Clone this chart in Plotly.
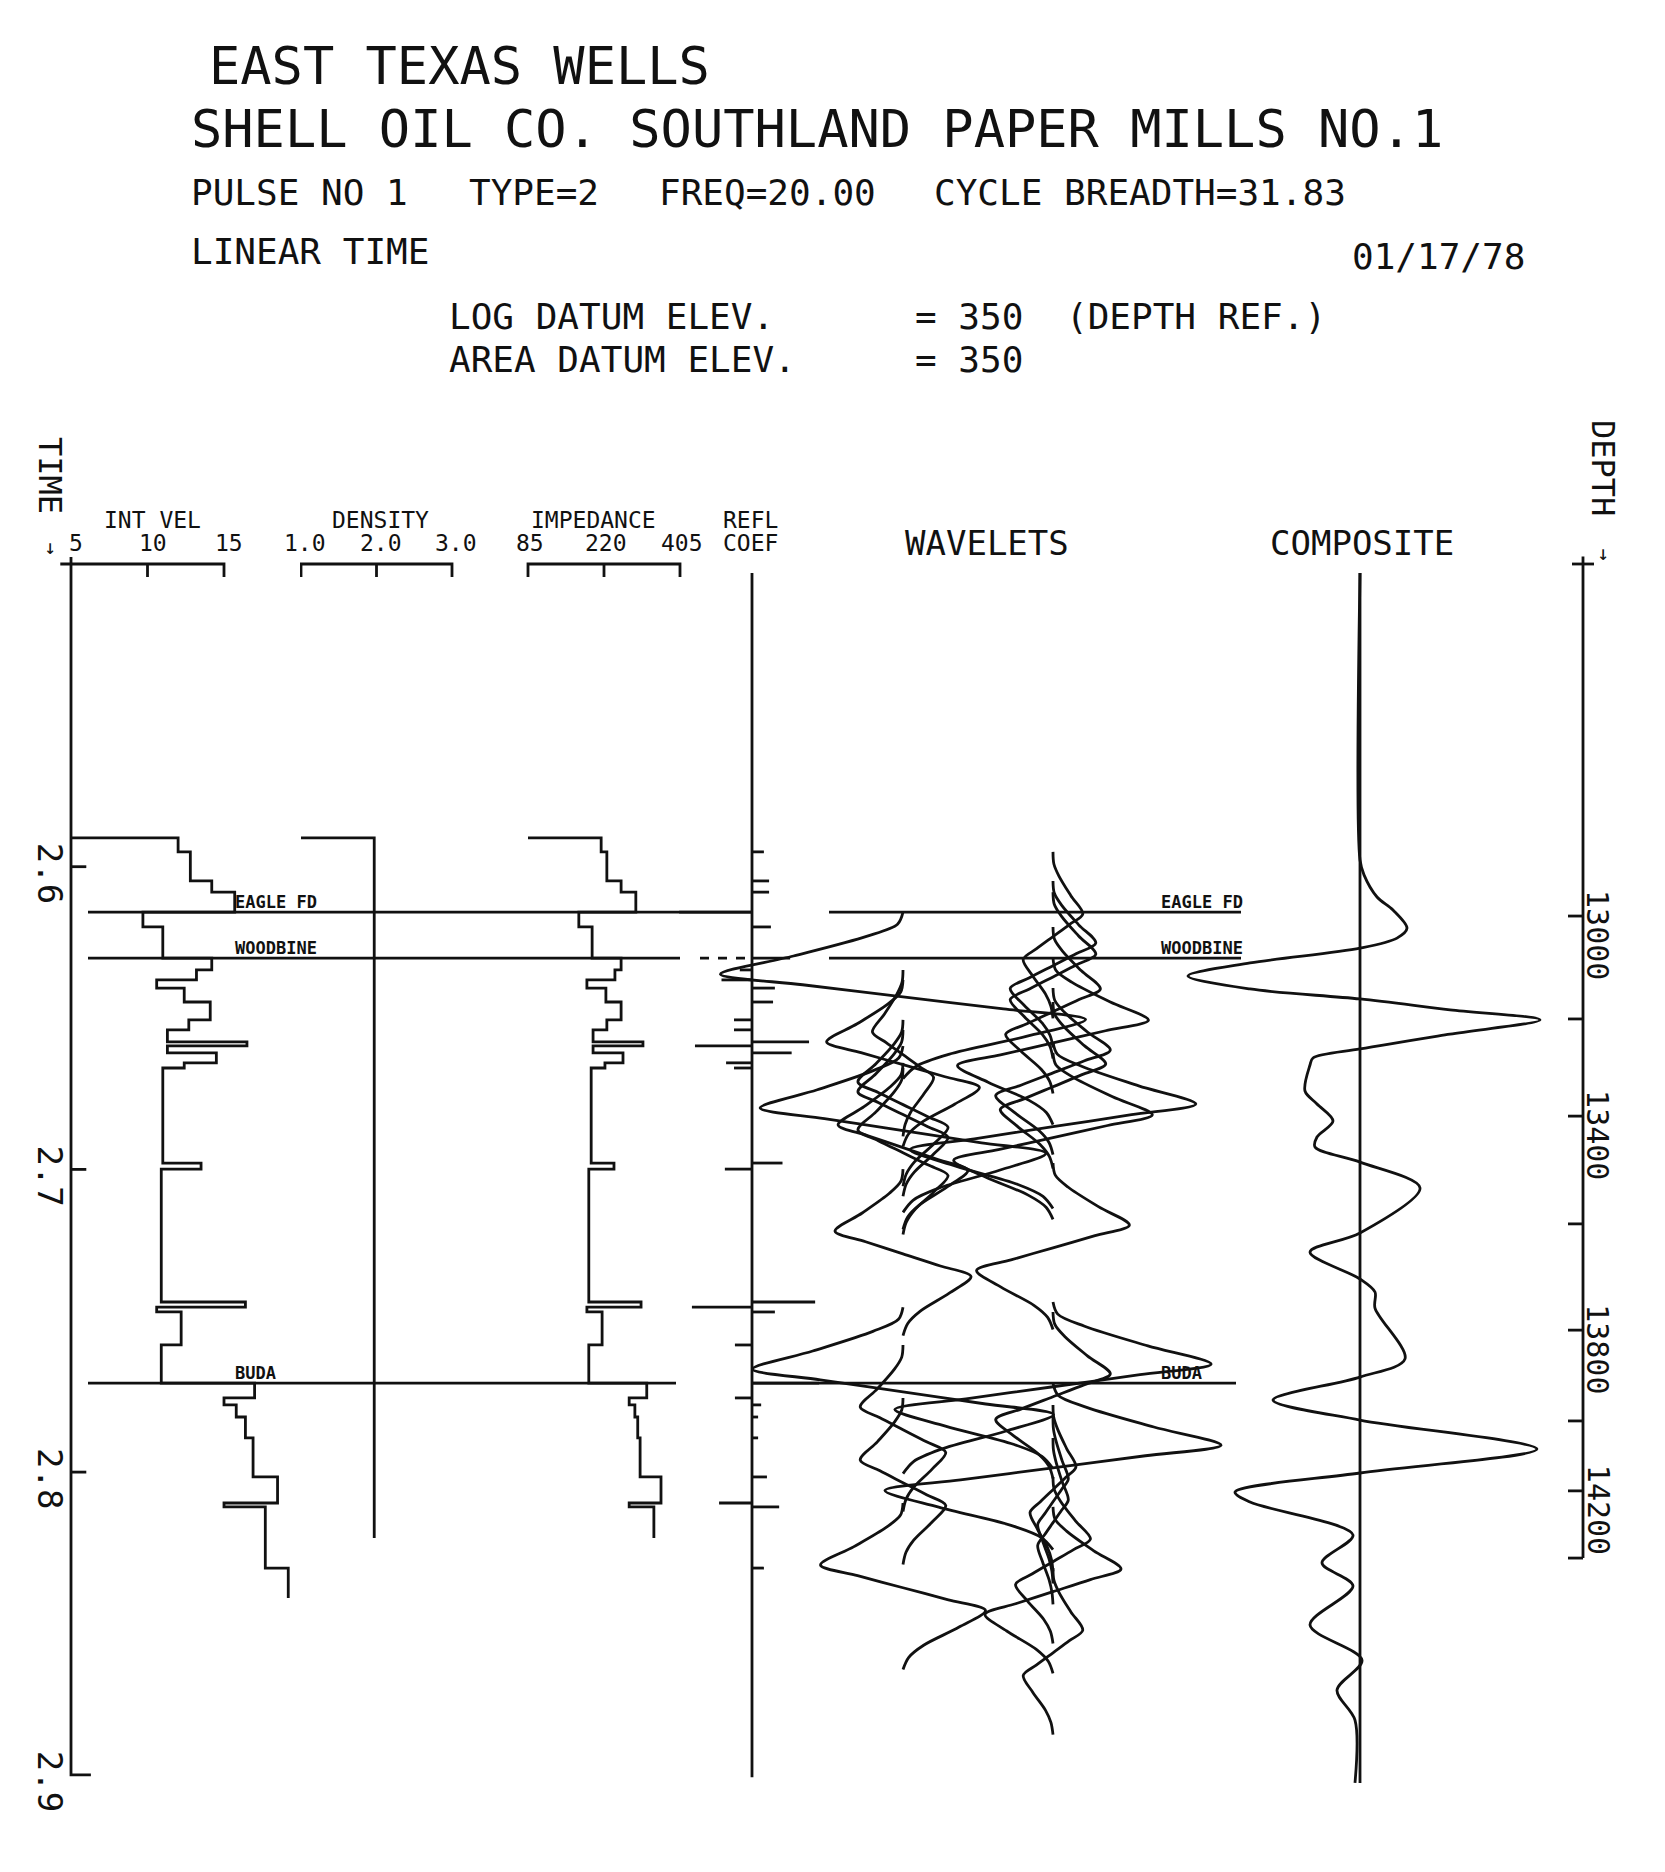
import plotly.graph_objects as go

W, H = 1665, 1872

# ---------------- data ----------------
time_ticks = [2.6, 2.7, 2.8, 2.9]
time_tick_labels = ["2.6", "2.7", "2.8", "2.9"]

vel_ticks = [5, 10, 15]
vel_tick_labels = ["5", "10", "15"]
dens_ticks = [1.0, 2.0, 3.0]
dens_tick_labels = ["1.0", "2.0", "3.0"]
imp_ticks = [85, 245, 405]
imp_tick_labels = ["85", "220", "405"]

# interval velocity log (top of layer in seconds, value in kft/s)
vel_times = [2.5905, 2.5951, 2.6047, 2.6084, 2.6150, 2.6199, 2.6302, 2.6341, 2.6374, 2.6401,
             2.6447, 2.6506, 2.6539, 2.6579, 2.6592, 2.6615, 2.6648, 2.6665, 2.6979, 2.6999,
             2.7438, 2.7455, 2.7471, 2.7580, 2.7706, 2.7755, 2.7778, 2.7818, 2.7887, 2.8016,
             2.8102, 2.8115, 2.8317]
vel_values = [12.0, 12.8, 14.2, 15.7, 9.7, 11.0, 14.2, 13.2, 10.6, 12.4,
              14.1, 12.7, 11.3, 16.5, 11.3, 14.5, 12.4, 11.0, 13.5, 10.9,
              16.4, 10.6, 12.2, 10.9, 17.0, 15.0, 15.8, 16.4, 16.9, 18.5,
              15.0, 17.7, 19.2]
vel_end = 2.8416

dens_times = [2.5905]
dens_values = [1.97]
dens_end = 2.8218

imp_times = [2.5905, 2.5951, 2.6047, 2.6084, 2.6150, 2.6199, 2.6302, 2.6341, 2.6374, 2.6401,
             2.6447, 2.6506, 2.6539, 2.6579, 2.6592, 2.6615, 2.6648, 2.6665, 2.6979, 2.6999,
             2.7438, 2.7455, 2.7471, 2.7580, 2.7706, 2.7755, 2.7778, 2.7818, 2.7887, 2.8016,
             2.8102, 2.8115]
imp_values = [239, 251, 281, 312, 192, 220, 281, 268, 209, 249,
              281, 251, 222, 327, 222, 285, 247, 218, 266, 213,
              323, 209, 241, 213, 335, 298, 310, 316, 321, 365,
              298, 350]
imp_end = 2.8218

refl_times = [2.5951, 2.6047, 2.6084, 2.6150, 2.6199, 2.6302, 2.6341, 2.6374, 2.6401, 2.6447,
              2.6506, 2.6539, 2.6579, 2.6592, 2.6615, 2.6648, 2.6665, 2.6979, 2.6999, 2.7438,
              2.7455, 2.7471, 2.7580, 2.7706, 2.7755, 2.7778, 2.7818, 2.7887, 2.8016, 2.8102,
              2.8115, 2.8317]
refl_values = [0.039, 0.056, 0.056, -0.239, 0.062, 0.125, -0.040, -0.100, 0.075, 0.069,
               -0.059, -0.059, 0.187, -0.187, 0.130, -0.085, -0.059, 0.100, -0.089, 0.207,
               -0.197, 0.075, -0.056, 0.220, -0.056, 0.030, 0.020, 0.020, 0.049, -0.108,
               0.089, 0.039]

# pulse shape (type 2, 20 Hz) read from an isolated wavelet: delay (s) and normalised amplitude
wavelet_tau = [0, 0.004, 0.008, 0.0145, 0.0205, 0.024, 0.028, 0.032, 0.0355, 0.041, 0.047, 0.051, 0.055]
wavelet_shape = [0, 0.03, 0.2, 0.6, 1.0, 0.55, 0.0, -0.55, -1.0, -0.68, -0.25, -0.07, 0]

comp_times = [2.5030, 2.5978, 2.6027, 2.6100, 2.6143, 2.6203, 2.6236, 2.6269, 2.6318, 2.6361,
              2.6404, 2.6437, 2.6473, 2.6506, 2.6553, 2.6602, 2.6632, 2.6655, 2.6741, 2.6784,
              2.6840, 2.6893, 2.6926, 2.6976, 2.7061, 2.7210, 2.7273, 2.7362, 2.7405, 2.7458,
              2.7626, 2.7686, 2.7762, 2.7828, 2.7924, 2.8003, 2.8066, 2.8099, 2.8208, 2.8300,
              2.8376, 2.8505, 2.8621, 2.8720, 2.8819, 2.9027]
comp_values = [0, 0, 0.02, 0.085, 0.165, 0.235, 0.185, 0, -0.55, -0.86,
               -0.55, 0, 0.45, 0.90, 0.45, 0, -0.235, -0.25, -0.275, -0.215,
               -0.135, -0.215, -0.225, 0, 0.30, 0, -0.25, 0, 0.075, 0.075,
               0.225, 0, -0.435, 0, 0.885, 0, -0.625, -0.55, -0.035, -0.19,
               -0.035, -0.25, 0.01, -0.115, -0.025, -0.025]

depth_tick_values = [13000, 13200, 13400, 13600, 13800, 14000, 14200]
depth_tick_times = [2.6163, 2.6503, 2.6824, 2.7180, 2.7531, 2.7831, 2.8062]
depth_tick_labels = ["13000", "", "13400", "", "13800", "", "14200"]
depth_axis_end = 2.8284

formation_names = ["EAGLE FD", "WOODBINE", "BUDA"]
formation_times = [2.6150, 2.6302, 2.7706]

# ---------------- geometry (pixels of the page) ----------------
T0, P0, SPS = 2.5, 564.0, 3027.0          # time 2.5 s at y=564 px, 3027 px per second
def ypx(t):
    return P0 + (t - T0) * SPS
def px(x):
    return x / W
def py(y):
    return 1 - y / H

Y_RANGE = [2.92, 2.46]
y_dom = [py(ypx(Y_RANGE[0])), py(ypx(Y_RANGE[1]))]

def xax(p0, v0, s, a, b):
    return dict(domain=[a / W, b / W], range=[v0 + (a - p0) / s, v0 + (b - p0) / s],
                visible=False, anchor="y", fixedrange=True)

LW = 2.8
INK = "#111111"
MONO = "DejaVu Sans Mono"

fig = go.Figure()

def path(xs, ys, axis, width=LW, spline=False):
    ln = dict(color=INK, width=width)
    if spline:
        ln.update(shape="spline", smoothing=0.9)
    fig.add_trace(go.Scatter(x=xs, y=ys, mode="lines", xaxis=axis, yaxis="y", line=ln,
                             hoverinfo="skip", showlegend=False, connectgaps=False))

def step_path(base, times, values, end):
    xs = [base, values[0]]
    ys = [times[0], times[0]]
    for i in range(1, len(times)):
        xs += [values[i - 1], values[i]]
        ys += [times[i], times[i]]
    xs.append(values[-1])
    ys.append(end)
    return xs, ys

TICK = 13 / SPS  # bracket tick length in seconds

# --- time axis (on velocity axis, x=5) ---
path([5, 5, 6.3], [2.4977, 2.9, 2.9], "x")
for t in time_ticks[:-1]:
    path([5, 6.0], [t, t], "x")
# velocity bracket
path([4.3, 15, 15], [2.5, 2.5, 2.5 + TICK], "x")
path([10, 10], [2.5, 2.5 + TICK], "x")
xs, ys = step_path(vel_ticks[0], vel_times, vel_values, vel_end)
path(xs, ys, "x")

# --- density ---
path([dens_ticks[0], dens_ticks[0], dens_ticks[-1], dens_ticks[-1]],
     [2.5 + TICK, 2.5, 2.5, 2.5 + TICK], "x2")
path([dens_ticks[1], dens_ticks[1]], [2.5, 2.5 + TICK], "x2")
xs, ys = step_path(dens_ticks[0], dens_times, dens_values, dens_end)
path(xs, ys, "x2")

# --- impedance ---
path([imp_ticks[0], imp_ticks[0], imp_ticks[-1], imp_ticks[-1]],
     [2.5 + TICK, 2.5, 2.5, 2.5 + TICK], "x3")
path([imp_ticks[1], imp_ticks[1]], [2.5, 2.5 + TICK], "x3")
xs, ys = step_path(imp_ticks[0], imp_times, imp_values, imp_end)
path(xs, ys, "x3")

# --- reflection coefficients ---
path([0, 0], [2.503, 2.9008], "x4")
rx, ry = [], []
for t, r in zip(refl_times, refl_values):
    rx += [0, r, None]
    ry += [t, t, None]
path(rx, ry, "x4")

# --- wavelets ---
WAVE_BASE = 75 / 764.0   # column offset in reflection-coefficient units
wx, wy = [], []
for t0, r in zip(refl_times, refl_values):
    base = WAVE_BASE if r > 0 else -WAVE_BASE
    for tau, w in zip(wavelet_tau, wavelet_shape):
        wx.append(base + r * w)
        wy.append(t0 + tau)
    wx.append(None)
    wy.append(None)
path(wx, wy, "x5", spline=True)

# --- composite ---
path([0, 0], [2.503, 2.9027], "x6")
path(comp_values, comp_times, "x6", spline=True)

# ---------------- layout ----------------
layout = dict(
    width=W, height=H, margin=dict(l=0, r=0, t=0, b=0),
    paper_bgcolor="white", plot_bgcolor="rgba(0,0,0,0)", showlegend=False,
    yaxis=dict(domain=y_dom, range=Y_RANGE, visible=False, anchor="x", fixedrange=True),
    xaxis=xax(71, 5, 15.3, 55, 300),
    xaxis2=xax(301, 1.0, 75.5, 300, 462),
    xaxis3=xax(528, 85, 152 / 320, 462, 698),
    xaxis4=xax(752, 0, 305, 670, 830),
    xaxis5=xax(978, 0, 764, 690, 1270),
    xaxis6=xax(1360, 0, 200, 1170, 1570),
)
fig.update_layout(**layout)

shapes = []
def hline(x0, x1, t, width=LW, dash="solid"):
    shapes.append(dict(type="line", xref="paper", yref="y", x0=px(x0), x1=px(x1), y0=t, y1=t,
                       line=dict(color=INK, width=width, dash=dash)))

# formation marker lines
log_ends = [752, 680, 676]
wav_starts = [829, 829, 752]
wav_ends = [1241, 1241, 1236]
for t, le, ws, we in zip(formation_times, log_ends, wav_starts, wav_ends):
    hline(88, le, t)
    hline(ws, we, t)
hline(700, 752, formation_times[1], dash="dash")

# depth axis
DX = 1583
shapes.append(dict(type="line", xref="paper", yref="y", x0=px(DX), x1=px(DX), y0=2.4975,
                   y1=depth_axis_end, line=dict(color=INK, width=LW)))
hline(DX - 11, DX + 11, 2.5)
hline(DX - 15, DX, depth_axis_end)
for t in depth_tick_times:
    hline(DX - 15, DX, t)
fig.update_layout(shapes=shapes)

anns = []
def text(s, x, y, size, xanchor="left", yanchor="middle", xref="paper", yref="paper",
         angle=0, bold=False, yshift=0, xshift=0):
    """x, y are page pixels when the reference is 'paper', data values otherwise."""
    if xref == "paper":
        x = px(x)
    if yref == "paper":
        y = py(y)
    anns.append(dict(text=("<b>%s</b>" % s) if bold else s, x=x, y=y, xref=xref, yref=yref,
                     xanchor=xanchor, yanchor=yanchor, showarrow=False, textangle=angle,
                     xshift=xshift, yshift=yshift,
                     font=dict(family=MONO, size=size, color=INK)))

# header
text("EAST TEXAS WELLS", 207, 66, 52)
text("SHELL OIL CO. SOUTHLAND PAPER MILLS NO.1", 189, 129, 52)
text("PULSE NO 1", 189, 193, 36)
text("TYPE=2", 467, 193, 36)
text("FREQ=20.00", 657, 193, 36)
text("CYCLE BREADTH=31.83", 932, 193, 36)
text("LINEAR TIME", 189, 252, 36)
text("01/17/78", 1527, 257, 36, xanchor="right")
text("LOG DATUM ELEV.", 447, 316, 36)
text("= 350", 913, 316, 36)
text("(DEPTH REF.)", 1064, 316, 36)
text("AREA DATUM ELEV.", 447, 360, 36)
text("= 350", 913, 360, 36)

# track headers
HS = 23
text("INT VEL", 152, 520, HS, xanchor="center")
text("DENSITY", 380, 520, HS, xanchor="center")
text("IMPEDANCE", 593, 520, HS, xanchor="center")
text("REFL", 750, 520, HS, xanchor="center")
text("COEF", 750, 543, HS, xanchor="center")
for v, lab in zip(vel_ticks, vel_tick_labels):
    text(lab, v, 543, HS, xanchor="center", xref="x", xshift=5)
for v, lab in zip(dens_ticks, dens_tick_labels):
    text(lab, v, 543, HS, xanchor="center", xref="x2", xshift=4)
for v, lab in zip(imp_ticks, imp_tick_labels):
    text(lab, v, 543, HS, xanchor="center", xref="x3", xshift=2)
text("WAVELETS", 987, 543, 34, xanchor="center")
text("COMPOSITE", 1362, 543, 34, xanchor="center")
text("TIME", 50, 475, 32, xanchor="center", angle=90)
text("\u2193", 50, 547, 20, xanchor="center")
text("DEPTH", 1603, 468, 32, xanchor="center", angle=90)
text("\u2193", 1603, 553, 20, xanchor="center")

# time tick labels
for t, lab in zip(time_ticks, time_tick_labels):
    text(lab, 50, t, 34, xanchor="center", yref="y", angle=90, yshift=-6)
# depth labels
for t, lab in zip(depth_tick_times, depth_tick_labels):
    if lab:
        text(lab, 1598, t, 30, xanchor="center", yref="y", angle=90, yshift=-19)
# formation labels
for name, t in zip(formation_names, formation_times):
    text(name, 233, t, 17, yanchor="bottom", yref="y", bold=True, yshift=-2)
    text(name, 1159, t, 17, yanchor="bottom", yref="y", bold=True, yshift=-2)

fig.update_layout(annotations=anns)

fig.write_html("out.html", config={"displayModeBar": False},
               post_script="document.body.style.margin='0px';")
